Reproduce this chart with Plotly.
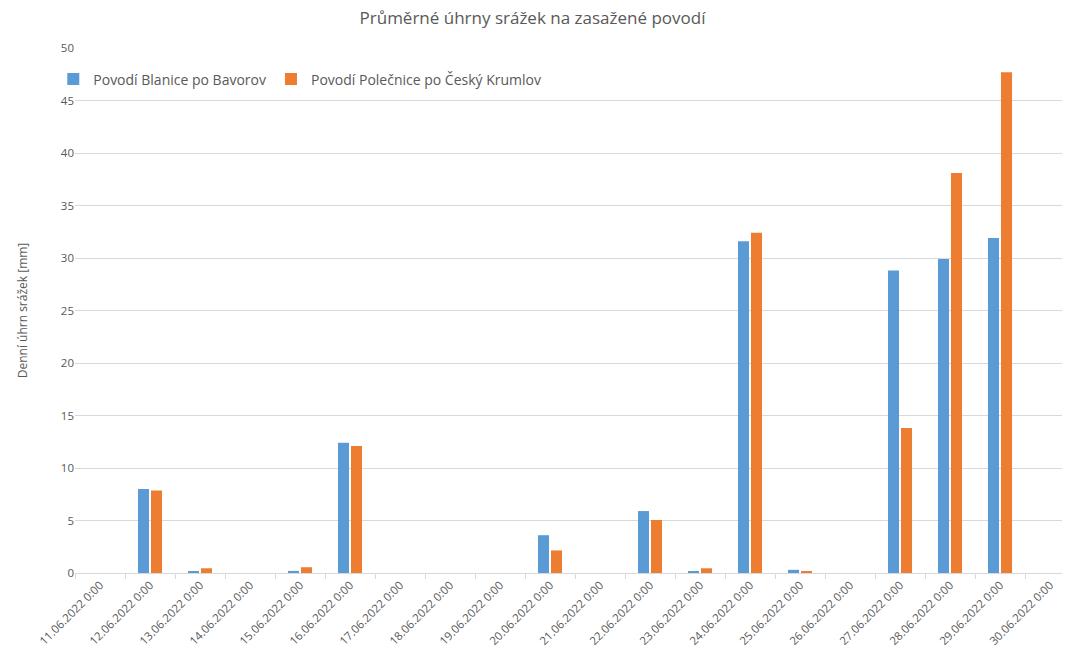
import plotly.graph_objects as go

dates = [
    "11.06.2022 0:00", "12.06.2022 0:00", "13.06.2022 0:00", "14.06.2022 0:00",
    "15.06.2022 0:00", "16.06.2022 0:00", "17.06.2022 0:00", "18.06.2022 0:00",
    "19.06.2022 0:00", "20.06.2022 0:00", "21.06.2022 0:00", "22.06.2022 0:00",
    "23.06.2022 0:00", "24.06.2022 0:00", "25.06.2022 0:00", "26.06.2022 0:00",
    "27.06.2022 0:00", "28.06.2022 0:00", "29.06.2022 0:00", "30.06.2022 0:00",
]
blanice = [0, 8.0, 0.1, 0, 0.2, 12.4, 0, 0, 0, 3.6, 0, 5.9, 0.1, 31.6, 0.3, 0, 28.8, 29.9, 31.9, 0]
polecnice = [0, 7.85, 0.45, 0, 0.55, 12.1, 0, 0, 0, 2.15, 0, 5.05, 0.45, 32.4, 0.1, 0, 13.8, 38.1, 47.7, 0]

font_family = "Open Sans, Liberation Sans, sans-serif"
text_color = "#595959"

fig = go.Figure()
fig.add_trace(go.Bar(x=dates, y=blanice, name="Povodí Blanice po Bavorov",
                     marker=dict(color="#5B9BD5", line=dict(width=0))))
fig.add_trace(go.Bar(x=dates, y=polecnice, name="Povodí Polečnice po Český Krumlov",
                     marker=dict(color="#ED7D31", line=dict(width=0))))

fig.update_layout(
    width=1065, height=649,
    margin=dict(l=75, r=3, t=48, b=76),
    paper_bgcolor="white", plot_bgcolor="white",
    font=dict(family=font_family, color=text_color, size=12),
    title=dict(text="Průměrné úhrny srážek na zasažené povodí",
               x=0.5, xanchor="center", y=0.972, yanchor="middle",
               font=dict(size=17, color=text_color)),
    barmode="group", bargap=0.48, bargroupgap=0.15,
    showlegend=True,
    legend=dict(orientation="h", x=-0.022, y=0.94, xanchor="left", yanchor="middle",
                font=dict(size=14, color=text_color), bgcolor="rgba(0,0,0,0)",
                itemwidth=30),
    xaxis=dict(type="category", tickangle=-45, tickfont=dict(size=11.5),
               range=[-0.5, 19.24], automargin=False,
               showline=True, linecolor="#D9D9D9", linewidth=1,
               ticks="outside", tickson="boundaries", tickcolor="#D9D9D9", ticklen=5,
               showgrid=False),
    yaxis=dict(range=[0, 50], dtick=5, showgrid=True, gridcolor="#D9D9D9",
               zeroline=False, tickfont=dict(size=11.5), automargin=False,
               title=dict(text="Denní úhrn srážek [mm]", font=dict(size=12), standoff=30),
               ticks="", ticklen=0),
)

fig.write_html("out.html")
